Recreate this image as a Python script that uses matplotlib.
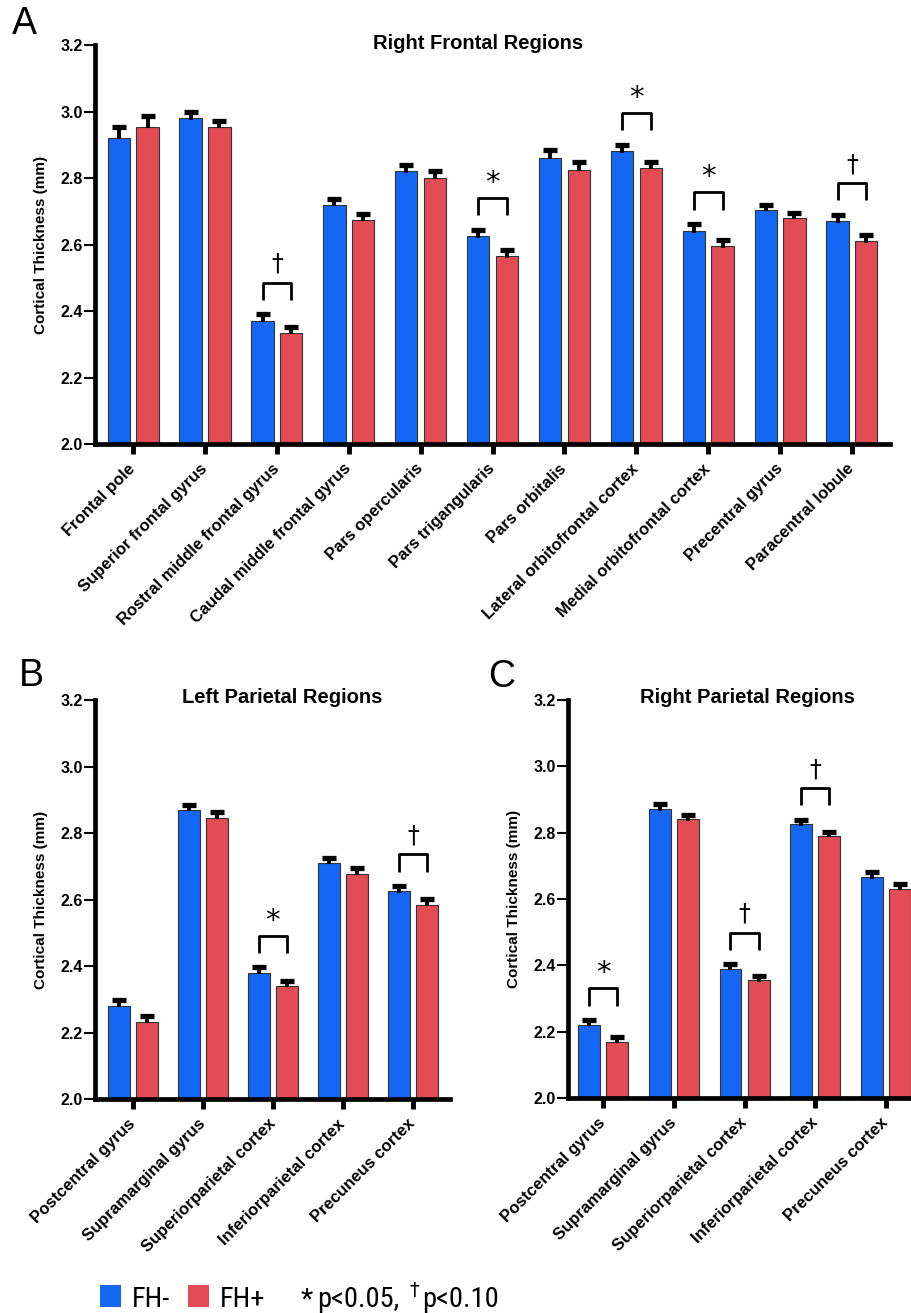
import numpy as np
import matplotlib.pyplot as plt
from matplotlib import font_manager as fm
from matplotlib.patches import Rectangle

plt.rcParams['font.family'] = ['Liberation Sans', 'DejaVu Sans']

BLUE = '#1466F5'
RED = '#E34B55'

# Right frontal regions
frontal_regions = ['Frontal pole', 'Superior frontal gyrus', 'Rostral middle frontal gyrus',
                   'Caudal middle frontal gyrus', 'Pars opercularis', 'Pars trigangularis',
                   'Pars orbitalis', 'Lateral orbitofrontal cortex', 'Medial orbitofrontal cortex',
                   'Precentral gyrus', 'Paracentral lobule']
frontal_neg = [2.92, 2.98, 2.37, 2.72, 2.82, 2.625, 2.86, 2.88, 2.64, 2.705, 2.67]
frontal_neg_err = [0.035, 0.018, 0.02, 0.018, 0.019, 0.02, 0.025, 0.02, 0.022, 0.015, 0.02]
frontal_pos = [2.955, 2.955, 2.335, 2.675, 2.80, 2.565, 2.825, 2.83, 2.595, 2.68, 2.61]
frontal_pos_err = [0.033, 0.018, 0.018, 0.018, 0.02, 0.02, 0.024, 0.018, 0.018, 0.015, 0.018]
frontal_sig = ['', '', '†', '', '', '*', '', '*', '*', '', '†']

# Parietal regions
parietal_regions = ['Postcentral gyrus', 'Supramarginal gyrus', 'Superiorparietal cortex',
                    'Inferiorparietal cortex', 'Precuneus cortex']
left_neg = [2.28, 2.87, 2.38, 2.71, 2.625]
left_neg_err = [0.018, 0.015, 0.016, 0.016, 0.016]
left_pos = [2.233, 2.845, 2.34, 2.678, 2.585]
left_pos_err = [0.017, 0.017, 0.016, 0.016, 0.016]
left_sig = ['', '', '*', '', '†']

right_neg = [2.22, 2.87, 2.39, 2.825, 2.665]
right_neg_err = [0.016, 0.015, 0.014, 0.014, 0.016]
right_pos = [2.17, 2.84, 2.355, 2.79, 2.63]
right_pos_err = [0.014, 0.014, 0.013, 0.013, 0.016]
right_sig = ['*', '', '†', '†', '']


def draw_panel(ax, regions, neg, neg_err, pos, pos_err, sig, title, title_x, xlim):
    x = np.arange(len(regions))
    off = 0.2
    w = 0.31
    neg = np.array(neg)
    pos = np.array(pos)
    neg_err = np.array(neg_err)
    pos_err = np.array(pos_err)

    ax.bar(x - off, neg - 2.0, w, bottom=2.0, color=BLUE, edgecolor='#333333', linewidth=0.8, zorder=2)
    ax.bar(x + off, pos - 2.0, w, bottom=2.0, color=RED, edgecolor='#333333', linewidth=0.8, zorder=2)
    # one-sided (upper) error bars
    for xs, v, e in [(x - off, neg, neg_err), (x + off, pos, pos_err)]:
        ax.vlines(xs, v - 0.004, v + e, color='black', lw=2.8, zorder=3)
        ax.plot(xs, v + e, ls='none', marker='_', ms=10, mew=3.8, color='black', zorder=3)

    # significance brackets
    for i, s in enumerate(sig):
        if not s:
            continue
        top = max(neg[i] + neg_err[i], pos[i] + pos_err[i]) + 0.095
        ax.plot([i - off, i - off, i + off, i + off], [top - 0.052, top, top, top - 0.052],
                color='black', lw=2, zorder=3, solid_capstyle='butt')
        if s == '*':
            ax.text(i, top + 0.045, s, ha='center', va='center', fontsize=21, family='DejaVu Sans')
        else:
            ax.text(i, top + 0.057, s, ha='center', va='center', fontsize=17, family='DejaVu Sans')

    ax.set_ylim(2.0, 3.2)
    ax.set_xlim(*xlim)
    ticks = np.arange(2.0, 3.21, 0.2)
    ax.set_yticks(ticks)
    ax.set_yticklabels(['%.1f' % t for t in ticks], fontsize=11.5, fontweight='bold')
    ax.set_xticks(x)
    ax.set_xticklabels(regions, rotation=45, ha='right', va='center', rotation_mode='anchor',
                       fontsize=12, fontweight='bold')
    ax.tick_params(axis='x', length=7, width=3.5, pad=9)
    ax.tick_params(axis='y', length=8, width=1.5, pad=1)
    ax.set_ylabel('Cortical Thickness (mm)', fontsize=11, fontweight='bold', labelpad=9)
    for side in ['top', 'right']:
        ax.spines[side].set_visible(False)
    for side in ['left', 'bottom']:
        ax.spines[side].set_linewidth(3.4)
    ax.text(title_x, 1.005, title, transform=ax.transAxes, ha='center', va='center',
            fontsize=14.5, fontweight='bold')


fig = plt.figure(figsize=(9.12, 13.13), dpi=100)

ax_a = fig.add_axes([0.1042, 0.6618, 0.8717, 0.3039])
draw_panel(ax_a, frontal_regions, frontal_neg, frontal_neg_err, frontal_pos, frontal_pos_err,
           frontal_sig, 'Right Frontal Regions', 0.482, (-0.53, 10.53))

ax_b = fig.add_axes([0.1042, 0.1628, 0.3892, 0.3041])
draw_panel(ax_b, parietal_regions, left_neg, left_neg_err, left_pos, left_pos_err,
           left_sig, 'Left Parietal Regions', 0.527, (-0.54, 4.53))

ax_c = fig.add_axes([0.6228, 0.1637, 0.3772, 0.3032])
draw_panel(ax_c, parietal_regions, right_neg, right_neg_err, right_pos, right_pos_err,
           right_sig, 'Right Parietal Regions', 0.523, (-0.5, 4.37))

# panel letters
fig.text(24 / 912, 1 - 24 / 1313, 'A', fontsize=27, ha='center', va='center')
fig.text(31 / 912, 1 - 676 / 1313, 'B', fontsize=27, ha='center', va='center')
fig.text(502 / 912, 1 - 677 / 1313, 'C', fontsize=27, ha='center', va='center')

# legend: look for a condensed face, else fall back to a smaller regular one
leg_font = {'family': 'Liberation Sans', 'size': 18}
for fam in ['Liberation Sans Narrow', 'Arial Narrow', 'Roboto Condensed', 'Open Sans Condensed']:
    try:
        fm.findfont(fm.FontProperties(family=fam), fallback_to_default=False)
        leg_font = {'family': fam, 'size': 20.5}
        break
    except ValueError:
        pass
else:
    path = fm.findfont(fm.FontProperties(family='DejaVu Sans', stretch='condensed'))
    if 'Condensed' in path:
        leg_font = {'family': 'DejaVu Sans', 'stretch': 'condensed', 'size': 19}

fig.add_artist(Rectangle((100 / 912, 6 / 1313), 21 / 912, 22 / 1313, transform=fig.transFigure,
                         facecolor=BLUE, edgecolor='none'))
fig.add_artist(Rectangle((188 / 912, 6 / 1313), 21 / 912, 22 / 1313, transform=fig.transFigure,
                         facecolor=RED, edgecolor='none'))
base = 6 / 1313
fig.text(132 / 912, base, 'FH-', fontdict=leg_font, va='baseline')
fig.text(220 / 912, base, 'FH+', fontdict=leg_font, va='baseline')

fig.canvas.draw()
renderer = fig.canvas.get_renderer()


def put(x_px, s, dy=0, **kw):
    props = dict(leg_font)
    props.update(kw)
    t = fig.text(x_px / 912, base + dy / 1313, s, fontdict=props, va='baseline')
    return t.get_window_extent(renderer=renderer).x1


end = put(301, '*')
end = put(end + 4, 'p<0.05,')
end = put(end + 10, '†', dy=11, family='DejaVu Sans', size=14)
put(end + 3, 'p<0.10')

fig.savefig('out.png', dpi=100)
